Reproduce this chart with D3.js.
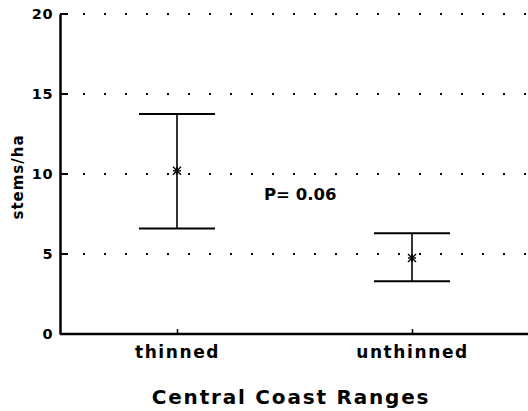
<!DOCTYPE html>
<html>
<head>
<meta charset="utf-8">
<script src="https://cdn.jsdelivr.net/npm/d3@7"></script>
<style>
  html, body { margin: 0; padding: 0; background: #fff; }
  svg { display: block; }
  text { font-family: "DejaVu Sans", sans-serif; font-weight: bold; fill: #000; }
</style>
</head>
<body>
<svg id="chart" width="528" height="411"></svg>
<script>
// Stem density by treatment: mean with upper/lower interval
const categories = ["thinned", "unthinned"];
const means = [10.2, 4.75];
const upper = [13.75, 6.3];
const lower = [6.6, 3.3];
const yTicks = [0, 5, 10, 15, 20];
const pLabel = "P= 0.06";

const svg = d3.select("#chart");
const margin = { left: 60, right: 0, top: 14, bottom: 77 };
const W = 528, H = 411;

const y = d3.scaleLinear().domain([0, 20]).range([H - margin.bottom, margin.top]);
const x = d3.scalePoint().domain(categories).range([177, 412]);

// dotted gridlines
svg.append("g").selectAll("line").data(yTicks.filter(d => d > 0)).join("line")
  .attr("x1", margin.left).attr("x2", W)
  .attr("y1", d => y(d)).attr("y2", d => y(d))
  .attr("stroke", "#000").attr("stroke-width", 2)
  .attr("stroke-dasharray", "2 19").attr("stroke-dashoffset", -2);

// y axis
const yAxis = svg.append("g").attr("transform", `translate(${margin.left},0)`)
  .call(d3.axisLeft(y).tickValues(yTicks).tickSize(0).tickPadding(7));
yAxis.attr("font-family", null).attr("font-size", null);
yAxis.select(".domain").attr("stroke", "#000").attr("stroke-width", 2.5);
yAxis.selectAll("text").style("font-size", "14.5px").style("letter-spacing", "0.5px");
// short inward tick marks
svg.append("g").selectAll("line").data(yTicks).join("line")
  .attr("x1", margin.left).attr("x2", margin.left + 8)
  .attr("y1", d => y(d)).attr("y2", d => y(d))
  .attr("stroke", "#000").attr("stroke-width", 2);

// x axis
const xAxis = svg.append("g").attr("transform", `translate(0,${y(0)})`)
  .call(d3.axisBottom(x).tickSize(-5).tickPadding(11));
xAxis.attr("font-family", null).attr("font-size", null);
xAxis.select(".domain").attr("d", `M${margin.left},0H${W}`).attr("stroke", "#000").attr("stroke-width", 2.5);
xAxis.selectAll(".tick line").attr("stroke", "#000").attr("stroke-width", 1.5);
xAxis.selectAll("text").style("font-size", "17px")
  .style("letter-spacing", "1.6px").attr("dy", "0.75em");

// error bars
const capHalf = 38;
const g = svg.append("g");
categories.forEach((c, i) => {
  const cx = x(c);
  g.append("line").attr("x1", cx).attr("x2", cx)
    .attr("y1", y(upper[i])).attr("y2", y(lower[i]))
    .attr("stroke", "#000").attr("stroke-width", 1.6);
  [upper[i], lower[i]].forEach(v => {
    g.append("line").attr("x1", cx - capHalf).attr("x2", cx + capHalf)
      .attr("y1", y(v)).attr("y2", y(v))
      .attr("stroke", "#000").attr("stroke-width", 2);
  });
  // asterisk mean marker
  const my = y(means[i]);
  const s = 4;
  const pts = [[-s, 0, s, 0], [0, -s, 0, s], [-s, -s, s, s], [-s, s, s, -s]];
  pts.forEach(p => {
    g.append("line").attr("x1", cx + p[0]).attr("y1", my + p[1])
      .attr("x2", cx + p[2]).attr("y2", my + p[3])
      .attr("stroke", "#000").attr("stroke-width", 1.4);
  });
});

// p-value annotation
svg.append("text").attr("x", 264).attr("y", 200)
  .style("font-size", "16.5px").style("letter-spacing", "0px").text(pLabel);

// axis titles
svg.append("text").attr("transform", `translate(23,${(y(0) + y(20)) / 2 + 3}) rotate(-90)`)
  .attr("text-anchor", "middle").style("font-size", "15px").style("letter-spacing", "1px").text("stems/ha");
svg.append("text").attr("x", 291).attr("y", 404).attr("text-anchor", "middle")
  .style("font-size", "20px").style("letter-spacing", "1.8px").text("Central Coast Ranges");
</script>
</body>
</html>
